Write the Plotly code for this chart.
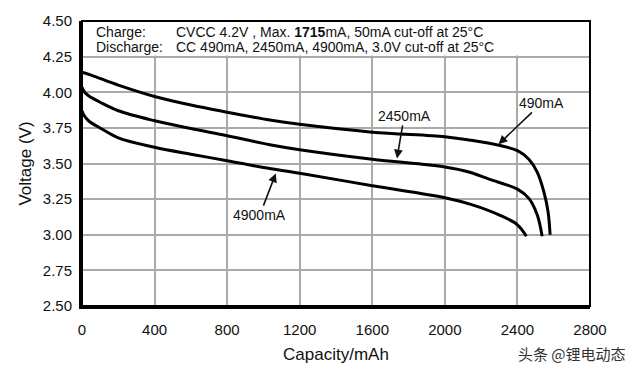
import plotly.graph_objects as go

# ---- data ----
cap_490 = [0, 50, 200, 400, 600, 800, 1035, 1200, 1600, 2000, 2133, 2298, 2400, 2463, 2509, 2546, 2569, 2580]
volt_490 = [4.14, 4.12, 4.05, 3.97, 3.91, 3.86, 3.805, 3.775, 3.72, 3.688, 3.665, 3.628, 3.59, 3.53, 3.44, 3.30, 3.16, 3.00]

cap_2450 = [0, 15, 36, 100, 200, 400, 600, 800, 1035, 1200, 1600, 2000, 2133, 2243, 2400, 2463, 2509, 2536]
volt_2450 = [4.035, 4.0, 3.976, 3.93, 3.87, 3.80, 3.745, 3.695, 3.632, 3.597, 3.53, 3.475, 3.44, 3.39, 3.32, 3.255, 3.14, 2.99]

cap_4900 = [0, 10, 36, 110, 200, 400, 600, 800, 1000, 1200, 1600, 2000, 2152, 2298, 2400, 2449]
volt_4900 = [3.87, 3.84, 3.80, 3.742, 3.68, 3.614, 3.565, 3.52, 3.472, 3.432, 3.344, 3.26, 3.21, 3.14, 3.07, 2.99]

x_ticks = [0, 400, 800, 1200, 1600, 2000, 2400, 2800]
y_ticks = [2.50, 2.75, 3.00, 3.25, 3.50, 3.75, 4.00, 4.25, 4.50]

labels = ["490mA", "2450mA", "4900mA"]
label_text_pos = [(2535, 3.925), (1776, 3.834), (980, 3.138)]
label_tip_pos = [(2296, 3.635), (1736, 3.535), (1068, 3.43)]

header_rows = ["Charge:", "Discharge:"]
header_texts = ["CVCC 4.2V , Max. <b>1715</b>mA, 50mA cut-off at 25°C",
                "CC 490mA, 2450mA, 4900mA, 3.0V cut-off at 25°C"]

FONT = "Liberation Sans, Arial, Helvetica, sans-serif"
INK = "#111111"

fig = go.Figure()
for xs, ys in [(cap_490, volt_490), (cap_2450, volt_2450), (cap_4900, volt_4900)]:
    fig.add_trace(go.Scatter(x=xs, y=ys, mode="lines",
                             line=dict(color="black", width=3, shape="spline", smoothing=1.0),
                             showlegend=False, hoverinfo="skip"))

# white header band (no vertical grid lines above 4.25)
fig.add_shape(type="rect", xref="x", yref="y", x0=0, x1=2800, y0=4.258, y1=4.5,
              fillcolor="white", line=dict(width=0), layer="between")

for lab, (tx, ty), (px, py) in zip(labels, label_text_pos, label_tip_pos):
    fig.add_annotation(x=px, y=py, ax=tx, ay=ty, xref="x", yref="y", axref="x", ayref="y",
                       text=lab, showarrow=True, arrowhead=2, arrowsize=1.1, arrowwidth=1.6,
                       arrowcolor=INK, standoff=0,
                       font=dict(family=FONT, size=14, color=INK))

for i, (r, t) in enumerate(zip(header_rows, header_texts)):
    yv = [4.423, 4.318][i]
    fig.add_annotation(x=68, y=yv, xref="x", yref="y", text=r, showarrow=False,
                       xanchor="left", yanchor="middle",
                       font=dict(family=FONT, size=14, color=INK))
    fig.add_annotation(x=507, y=yv, xref="x", yref="y", text=t, showarrow=False,
                       xanchor="left", yanchor="middle",
                       font=dict(family=FONT, size=14, color=INK))

# watermark
fig.add_annotation(x=1.075, y=-0.165, xref="paper", yref="paper", text="头条 @锂电动态",
                   showarrow=False, xanchor="right", yanchor="middle",
                   font=dict(family="Noto Sans CJK SC", size=15, color="#333"))

# frame
fig.add_shape(type="rect", xref="paper", yref="paper", x0=0, x1=1, y0=0, y1=1,
              line=dict(color="black", width=2), layer="above")

# page body has an 8px default margin, so the figure is 8px smaller
fig.update_layout(
    width=632, height=365,
    margin=dict(l=74, r=50, t=13, b=67),
    paper_bgcolor="white", plot_bgcolor="white",
    font=dict(family=FONT, color=INK),
)
fig.update_xaxes(range=[0, 2800], tickvals=x_ticks, ticktext=[str(v) for v in x_ticks],
                 automargin=False,
                 showgrid=True, gridcolor="#aaaaaa", gridwidth=1.5, zeroline=False,
                 showline=True, linecolor="black", linewidth=3,
                 ticks="", ticklabelstandoff=8,
                 tickfont=dict(family=FONT, size=15, color=INK),
                 title=dict(text="Capacity/mAh", font=dict(family=FONT, size=17, color=INK), standoff=12))
fig.update_yaxes(range=[2.5, 4.5], tickvals=y_ticks, ticktext=[f"{v:.2f}" for v in y_ticks],
                 automargin=False,
                 showgrid=True, gridcolor="#aaaaaa", gridwidth=1.5, zeroline=False,
                 showline=True, linecolor="black", linewidth=3,
                 ticks="", ticklabelstandoff=4,
                 tickfont=dict(family=FONT, size=15, color=INK),
                 title=dict(text="Voltage (V)", font=dict(family=FONT, size=17, color=INK), standoff=7))

fig.write_html("out.html")
